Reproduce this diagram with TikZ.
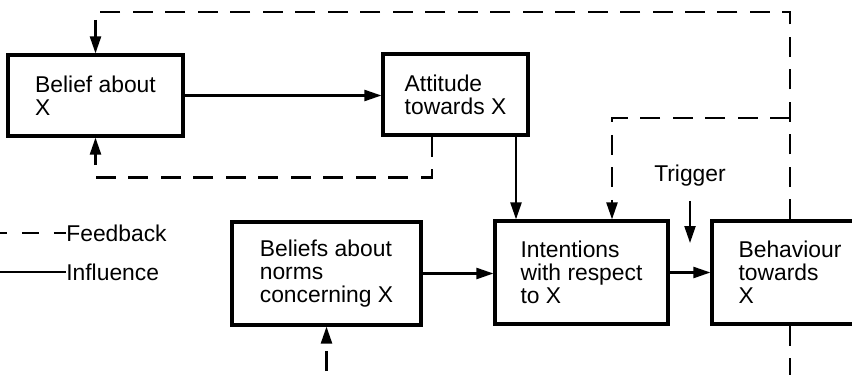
\documentclass[tikz,border=0pt]{standalone}
\usepackage{fontspec}
\setmainfont{Liberation Sans}
\usepackage{tikz}
\usetikzlibrary{arrows.meta,calc}

\begin{document}
\begin{tikzpicture}[
    x=0.02cm, y=-0.02cm,
    box/.style={draw, line width=1.8pt, align=left, font=\fontsize{13}{13}\selectfont},
    influence/.style={line width=1.3pt, -{Triangle[length=3.4mm,width=2.2mm]}},
    feedback/.style={line width=1.3pt, dash pattern=on 0.4cm off 0.25cm, -{Triangle[length=3.4mm,width=2.2mm]}},
    key/.style={line width=1.3pt},
    label/.style={font=\fontsize{13}{13}\selectfont}
]
\useasboundingbox (0,0) rectangle (852,375);
\clip (0,0) rectangle (852,375);

% Kaesten
\node[box, minimum width=3.5cm, minimum height=1.62cm] (belief) at (95.5,95.5) {Belief about\\X};
\node[box, minimum width=2.9cm, minimum height=1.62cm] (attitude) at (455.5,94.5) {Attitude\\towards X};
\node[box, minimum width=3.78cm, minimum height=2.06cm] (norms) at (326.5,273.5) {Beliefs about\\norms\\concerning X};
\node[box, minimum width=3.46cm, minimum height=2.06cm] (intentions) at (581.5,272.5) {Intentions\\with respect\\to X};
\node[box, minimum width=3.12cm, minimum height=2.06cm] (behaviour) at (790,272.5) {Behaviour\\towards\\X};
\node[label] (trigger) at (690,176) {Trigger};
\coordinate (trigtip) at (690,243);

% Hilfspunkte
\coordinate (fbtop) at (0,12);
\coordinate (fbmid) at (0,118);
\coordinate (fbbot) at (0,376.5);
\coordinate (attout) at ($(attitude.south)+(60.5,0)$);
\coordinate (attfb) at ($(attitude.south)+(-23.5,0)$);

% Einfluss
\draw[influence] (belief.east) -- (belief.east -| attitude.west);
\draw[influence] (attout) -- (attout |- intentions.north);
\draw[influence] (norms.east) -- (norms.east -| intentions.west);
\draw[influence] (intentions.east) -- (intentions.east -| behaviour.west);
\draw[influence] ($(trigger.south)+(0,8)$) -- (trigtip);

% Rueckmeldung
\draw[feedback] (behaviour.north) |- (fbtop -| belief.north) -- (belief.north);
\draw[feedback] (attfb) |- ($(belief.south)+(0,40)$) -- (belief.south);
\draw[feedback] (behaviour.north |- fbmid) -| ($(intentions.north)+(30.5,0)$);
\draw[feedback] (behaviour.south) |- (fbbot -| norms.south) -- (norms.south);

% Legende
\node[label, anchor=west, inner xsep=0pt] (fbkey) at (66,233) {Feedback};
\node[label, anchor=west, inner xsep=0pt] (infkey) at (66,272) {Influence};
\coordinate (fbstart) at (0,233);
\coordinate (infstart) at (0,272);
\draw[key, dash pattern=on 0.34cm off 0.3cm, dash phase=0.2cm] (fbstart) -- (fbkey.west);
\draw[key] (infstart) -- (infkey.west);

\end{tikzpicture}
\end{document}
